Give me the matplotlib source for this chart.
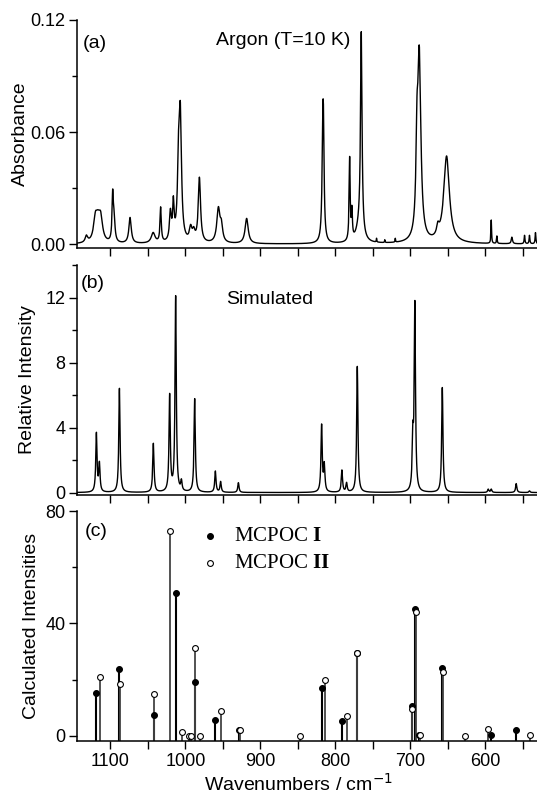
import numpy as np
import matplotlib
matplotlib.use('Agg')
import matplotlib.pyplot as plt
from matplotlib.ticker import MultipleLocator, FormatStrFormatter

plt.rcParams['font.family'] = ['Liberation Sans', 'DejaVu Sans']
plt.rcParams['mathtext.fontset'] = 'custom'
plt.rcParams['mathtext.rm'] = 'Liberation Sans'
plt.rcParams['mathtext.bf'] = 'Liberation Serif:bold'

# (a) Argon matrix spectrum: peak positions (cm-1), heights, half widths
exp_pos = [1132.0, 1120.0, 1116.5, 1113.0, 1097.0, 1095.2, 1073.8, 1043.0, 1033.0, 1020.0,
           1016.0, 1009.0, 1006.7, 993.0, 988.9, 981.3, 956.0, 952.0, 918.3, 816.5,
           815.6, 780.9, 777.9, 768.0, 765.4, 745.0, 734.0, 720.0, 691.1, 688.0,
           663.2, 651.6, 592.0, 584.5, 564.5, 547.6, 541.0, 533.0]
exp_height = [0.0035, 0.0120, 0.0080, 0.0120, 0.0235, 0.0120, 0.0138, 0.0055, 0.0185, 0.0150,
              0.0190, 0.0390, 0.0600, 0.0070, 0.0050, 0.0345, 0.0180, 0.0080, 0.0135, 0.0660,
              0.0230, 0.0440, 0.0150, 0.0080, 0.1070, 0.0020, 0.0015, 0.0020, 0.0400, 0.0980,
              0.0050, 0.0465, 0.0125, 0.0040, 0.0035, 0.0045, 0.0045, 0.0060]
exp_hwhm = [2.0, 3.0, 3.0, 3.0, 1.0, 1.5, 1.9, 3.0, 1.0, 1.5,
            1.2, 1.8, 1.8, 2.0, 2.0, 1.8, 2.5, 2.0, 2.5, 1.3,
            0.8, 0.8, 0.8, 5.0, 1.2, 0.4, 0.4, 0.4, 1.5, 2.5,
            2.0, 4.5, 0.5, 0.5, 1.0, 0.6, 0.6, 0.6]

# (b) simulated spectrum peaks
sim_pos = [1118.7, 1114.7, 1088.0, 1042.7, 1021.0, 1013.0, 1005.3, 987.6, 960.0, 953.0,
           929.3, 818.3, 814.7, 791.2, 785.0, 770.7, 696.6, 693.9, 657.3, 596.0,
           592.0, 558.7, 541.0]
sim_height = [3.6, 1.7, 6.4, 3.0, 5.9, 12.0, 0.6, 5.75, 1.3, 0.65,
              0.6, 4.1, 1.6, 1.35, 0.55, 7.75, 3.0, 11.45, 6.45, 0.2,
              0.2, 0.55, 0.1]
sim_hwhm = 1.0

# (c) calculated intensities
mcpoc1_pos = [1118.7, 1088.5, 1042.3, 1012.9, 987.6, 960.0, 928.5, 818.3, 791.2, 771.0,
              697.4, 694.3, 689.0, 657.8, 592.0, 558.7]
mcpoc1_int = [15.3, 23.9, 7.5, 50.8, 19.3, 5.7, 2.2, 17.0, 5.4, 29.6,
              10.8, 45.2, 0.3, 24.0, 0.5, 2.1]
mcpoc2_pos = [1114.3, 1087.2, 1042.3, 1020.9, 1004.5, 995.6, 992.6, 986.7, 980.0, 952.9,
              927.2, 846.7, 813.9, 784.9, 770.5, 697.4, 692.5, 686.7, 656.9, 626.7,
              596.0, 540.5]
mcpoc2_int = [21.0, 18.5, 15.0, 72.8, 1.3, 0.0, 0.0, 31.3, 0.0, 8.9,
              2.2, 0.0, 19.8, 7.0, 29.4, 9.5, 44.2, 0.4, 22.6, 0.0,
              2.4, 0.3]


def lorentz_sum(x, pos, height, hwhm):
    y = np.zeros_like(x)
    hw = np.broadcast_to(hwhm, len(pos))
    for p, h, g in zip(pos, height, hw):
        y += h * g**2 / ((x - p)**2 + g**2)
    return y


wn = np.arange(525.0, 1150.0, 0.05)
absorb = lorentz_sum(wn, exp_pos, exp_height, exp_hwhm)
sim = lorentz_sum(wn, sim_pos, sim_height, sim_hwhm)

W, H = 537, 796
fig = plt.figure(figsize=(W / 100, H / 100), dpi=100)
left = 76.7 / W
width = 1 - left
ax_a = fig.add_axes([left, (H - 248) / H, width, 228 / H])
ax_b = fig.add_axes([left, (H - 495) / H, width, 230 / H])
ax_c = fig.add_axes([left, (H - 740.7) / H, width, 229.7 / H])

for ax in (ax_a, ax_b, ax_c):
    ax.set_xlim(1145, 531)
    ax.spines['top'].set_visible(False)
    ax.spines['right'].set_visible(False)
    ax.spines['left'].set_linewidth(1.1)
    ax.spines['bottom'].set_linewidth(1.1)
    ax.xaxis.set_major_locator(MultipleLocator(100))
    ax.xaxis.set_minor_locator(MultipleLocator(50))
    ax.tick_params(axis='x', which='both', direction='out', length=6, width=1.0,
                   labelsize=13, pad=3)
    ax.tick_params(axis='y', which='major', direction='out', length=6, width=1.0,
                   labelsize=13, pad=2)
    ax.tick_params(axis='y', which='minor', direction='out', length=3.5, width=1.0)

# (a)
ax_a.plot(wn, absorb, color='black', lw=1.0)
ax_a.set_ylim(-0.0021, 0.12)
ax_a.yaxis.set_major_locator(MultipleLocator(0.06))
ax_a.yaxis.set_minor_locator(MultipleLocator(0.03))
ax_a.yaxis.set_major_formatter(FormatStrFormatter('%.2f'))
ax_a.tick_params(axis='x', labelbottom=False)
ax_a.set_ylabel('Absorbance', fontsize=14, va='center')
ax_a.yaxis.set_label_coords(-0.122, 0.5)
ax_a.text(0.0137, 0.899, '(a)', transform=ax_a.transAxes, fontsize=14, va='center')
ax_a.text(0.3026, 0.91, 'Argon (T=10 K)', transform=ax_a.transAxes, fontsize=14, va='center')

# (b)
ax_b.plot(wn, sim, color='black', lw=1.0)
ax_b.set_ylim(-0.15, 14)
ax_b.yaxis.set_major_locator(MultipleLocator(4))
ax_b.yaxis.set_minor_locator(MultipleLocator(2))
ax_b.tick_params(axis='x', labelbottom=False)
ax_b.set_ylabel('Relative Intensity', fontsize=14, va='center')
ax_b.yaxis.set_label_coords(-0.107, 0.5)
ax_b.text(0.0093, 0.918, '(b)', transform=ax_b.transAxes, fontsize=14, va='center')
ax_b.text(0.3237, 0.852, 'Simulated', transform=ax_b.transAxes, fontsize=14, va='center')

# (c)
ybot = -1.7
ax_c.set_ylim(ybot, 80)
ax_c.vlines(mcpoc1_pos, ybot, mcpoc1_int, color='black', lw=1.5)
ax_c.vlines(mcpoc2_pos, ybot, mcpoc2_int, color='#444444', lw=1.3)
ax_c.plot(mcpoc1_pos, mcpoc1_int, 'o', ms=4.2, mfc='black', mec='black', mew=0.8,
          clip_on=False)
ax_c.plot(mcpoc2_pos, mcpoc2_int, 'o', ms=4.2, mfc='white', mec='black', mew=0.8,
          clip_on=False)
ax_c.yaxis.set_major_locator(MultipleLocator(40))
ax_c.yaxis.set_minor_locator(MultipleLocator(20))
ax_c.set_ylabel('Calculated Intensities', fontsize=14, va='center')
ax_c.yaxis.set_label_coords(-0.0983, 0.5)
ax_c.set_xlabel(r'Wavenumbers / cm$^{\mathsf{-1}}$', fontsize=14, va='baseline')
ax_c.xaxis.set_label_coords(0.482, -0.216)
ax_c.text(0.018, 0.91, '(c)', transform=ax_c.transAxes, fontsize=14, va='center')

# legend
ax_c.plot([0.2896], [0.891], 'o', ms=4.2, mfc='black', mec='black', mew=0.8,
          transform=ax_c.transAxes, clip_on=False)
ax_c.plot([0.2896], [0.772], 'o', ms=4.2, mfc='white', mec='black', mew=0.8,
          transform=ax_c.transAxes, clip_on=False)
ax_c.text(0.3418, 0.891, r'MCPOC $\mathbf{I}$', transform=ax_c.transAxes,
          family='Liberation Serif', fontsize=15, va='center')
ax_c.text(0.3418, 0.772, r'MCPOC $\mathbf{II}$', transform=ax_c.transAxes,
          family='Liberation Serif', fontsize=15, va='center')

fig.savefig('out.png', dpi=100)
